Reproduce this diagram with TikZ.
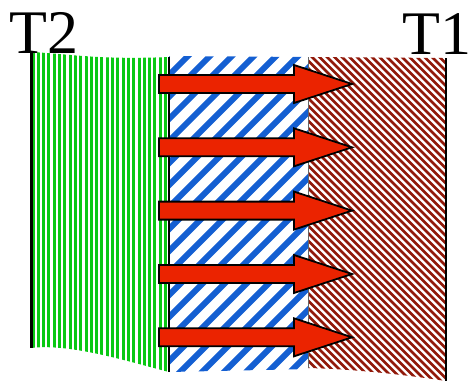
\documentclass[tikz,border=0pt]{standalone}
\usepackage{fontspec}
\setmainfont{Liberation Serif}
\definecolor{hgreen}{RGB}{10,200,20}
\definecolor{hblue}{RGB}{20,95,210}
\definecolor{hbrown}{RGB}{145,25,10}
\definecolor{harrow}{RGB}{235,35,0}
\tikzset{
  heatarrow/.style={fill=harrow, draw=black, line width=1.8pt, line join=miter},
  bigtext/.style={font=\fontsize{62}{62}\selectfont, inner sep=0pt},
  greenline/.style={hgreen, line width=3pt},
  blueline/.style={hblue, line width=6pt},
  brownline/.style={hbrown, line width=2.8pt},
}
\begin{document}
\begin{tikzpicture}[x=1pt,y=-1pt]
\useasboundingbox (0,0) rectangle (473,383);
% green layer
\begin{scope}
\clip (31,52) .. controls (70,54) and (100,60) .. (169,57) -- (169,372) .. controls (130,362) and (70,343) .. (31,348) -- cycle;
\foreach \i in {0,...,26} \draw[greenline] ({33+\i*5.3},40) -- ++(0,340);
\end{scope}
% blue layer
\begin{scope}
\clip (169,56) -- (308,57) -- (308,369) -- (169,372) -- cycle;
\foreach \c in {200,222,...,720} \draw[blueline] ({\c-400},400) -- (\c,0);
\end{scope}
% brown layer
\begin{scope}
\clip (308,57) -- (446,58) -- (446,381) .. controls (400,374) and (350,369) .. (308,368) -- cycle;
\foreach \c in {-90,-82.5,...,400} \draw[brownline] (\c,0) -- ({\c+400},400);
\end{scope}
% edges
\draw[line width=3pt] (31,52) -- (31,348);
\draw[line width=2pt] (169,57) -- (169,372);
\draw[black!60, line width=1pt] (308,57) -- (308,368);
\draw[line width=2.5pt] (446,58) -- (446,381);
% arrows
\foreach \y in {84,147.3,210.6,274,337.3}
  \draw[heatarrow] (159,{\y-9}) -- (294,{\y-9}) -- (294,{\y-19}) -- (352,\y) -- (294,{\y+19}) -- (294,{\y+9}) -- (159,{\y+9}) -- cycle;
% labels
\node[bigtext, anchor=base west] (t2) at (9,53) {T2};
\node[bigtext, anchor=base east] (t1) at (472,54) {T1};
\end{tikzpicture}
\end{document}
